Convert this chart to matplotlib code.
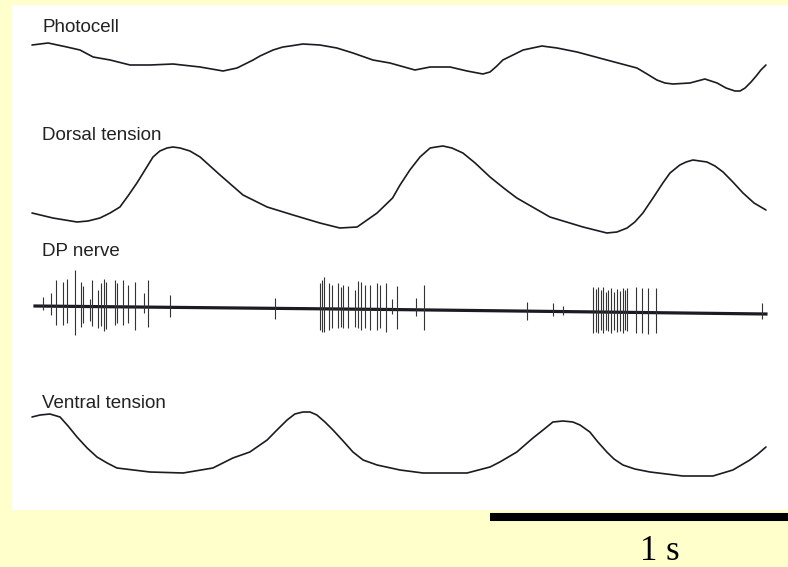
import matplotlib
matplotlib.use("Agg")
import matplotlib.pyplot as plt
import numpy as np

# time in seconds, levels in arbitrary recorder units (up = positive)
photo_t = [-0.01, 0.044, 0.107, 0.151, 0.195, 0.252, 0.319, 0.386, 0.463, 0.554, 0.631, 0.678,
           0.705, 0.732, 0.755, 0.799, 0.832, 0.856, 0.899, 0.956, 1.013, 1.067, 1.134, 1.191,
           1.275, 1.326, 1.393, 1.450, 1.503, 1.527, 1.550, 1.570, 1.604, 1.638, 1.701, 1.752,
           1.819, 1.919, 2.020, 2.054, 2.087, 2.114, 2.141, 2.198, 2.248, 2.289, 2.319, 2.349,
           2.366, 2.383, 2.403, 2.423, 2.436, 2.453]
photo_v = [55, 57, 53, 50, 43, 40, 35, 35, 36, 33, 29, 32,
           36, 40, 44, 50, 53, 54, 56, 55, 52, 47, 40, 37,
           30, 33, 33, 29, 26, 28, 34, 40, 45, 50, 54, 52,
           48, 40, 32, 26, 20, 17, 16, 17, 21, 17, 12, 9,
           9, 12, 18, 25, 30, 35]

dorsal_t = [-0.01, 0.060, 0.141, 0.178, 0.218, 0.252, 0.285, 0.312, 0.342, 0.369, 0.396, 0.419,
            0.443, 0.463, 0.487, 0.520, 0.554, 0.621, 0.698, 0.779, 0.866, 0.956, 1.023, 1.081,
            1.148, 1.200, 1.225, 1.258, 1.292, 1.326, 1.346, 1.369, 1.399, 1.436, 1.477, 1.527,
            1.577, 1.617, 1.728, 1.839, 1.919, 1.953, 1.987, 2.013, 2.040, 2.074, 2.107, 2.131,
            2.164, 2.185, 2.208, 2.255, 2.282, 2.309, 2.342, 2.376, 2.413, 2.453]
dorsal_v = [27, 22, 18, 19, 22, 27, 33, 44, 57, 70, 83, 89,
            92, 93, 92, 89, 83, 65, 45, 33, 25, 17, 12, 13,
            27, 42, 55, 70, 83, 92, 93, 94, 92, 87, 77, 63,
            51, 42, 23, 13, 7, 8, 12, 18, 27, 42, 57, 67,
            75, 78, 80, 78, 74, 68, 58, 47, 37, 30]

ventral_t = [-0.01, 0.017, 0.050, 0.084, 0.111, 0.141, 0.175, 0.208, 0.242, 0.275, 0.386, 0.497,
             0.597, 0.664, 0.721, 0.779, 0.812, 0.846, 0.872, 0.899, 0.923, 0.946, 0.973, 1.000,
             1.034, 1.067, 1.101, 1.148, 1.225, 1.302, 1.450, 1.527, 1.560, 1.617, 1.671, 1.705,
             1.738, 1.772, 1.805, 1.829, 1.862, 1.889, 1.919, 1.943, 1.973, 2.013, 2.064, 2.174,
             2.275, 2.342, 2.399, 2.426, 2.453]
ventral_v = [63, 65, 66, 63, 54, 43, 32, 23, 17, 12, 8, 7,
             12, 22, 28, 40, 50, 60, 66, 68, 68, 65, 58, 50,
             39, 28, 20, 15, 10, 7, 7, 13, 18, 28, 42, 50,
             58, 59, 58, 55, 48, 38, 28, 21, 15, 11, 8, 4,
             4, 10, 20, 26, 33]

# DP nerve: baseline drift and spikes (up / down excursions)
dp_base_t = [0.0, 1.191, 2.453]
dp_base_v = [0, -3.5, -8]
spike_t = [0.027, 0.054, 0.070, 0.094, 0.107, 0.134, 0.154, 0.161, 0.185, 0.191, 0.211, 0.221,
           0.232, 0.238, 0.268, 0.275, 0.295, 0.312, 0.336, 0.366, 0.379, 0.453, 0.805,
           0.956, 0.963, 0.970, 0.987, 0.997, 1.017, 1.027, 1.034, 1.050, 1.074, 1.084, 1.094,
           1.107, 1.124, 1.148, 1.158, 1.178, 1.198, 1.215, 1.279, 1.305,
           1.651, 1.738, 1.772,
           1.872, 1.883, 1.889, 1.899, 1.906, 1.916, 1.923, 1.933, 1.943, 1.953, 1.963, 1.973,
           1.980, 1.987, 2.017, 2.037, 2.057, 2.084, 2.440]
spike_up = [9, 13, 26, 24, 27, 36, 24, 20, 8, 27, 17, 24,
            28, 25, 27, 24, 27, 22, 25, 14, 27, 12, 10,
            26, 29, 32, 26, 24, 26, 22, 24, 23, 19, 28, 27,
            24, 24, 26, 24, 26, 11, 24, 12, 25,
            9, 8, 6,
            25, 23, 25, 22, 25, 20, 22, 24, 20, 23, 21, 24,
            22, 24, 25, 25, 25, 25, 11]
spike_down = [4, 9, 19, 19, 17, 29, 21, 17, 14, 19, 21, 19,
              24, 22, 18, 16, 18, 16, 23, 6, 20, 10, 11,
              21, 23, 23, 21, 19, 19, 18, 19, 19, 18, 19, 21,
              19, 21, 21, 19, 23, 4, 19, 6, 20,
              9, 5, 3,
              21, 20, 21, 18, 21, 18, 19, 21, 18, 20, 19, 21,
              18, 19, 21, 20, 21, 20, 5]

labels = ["Photocell", "Dorsal tension", "DP nerve", "Ventral tension"]

bg = "#FFFFCC"
ink = "#1c1a22"

fig = plt.figure(figsize=(7.88, 5.67), dpi=100, facecolor=bg)
ax = fig.add_axes([12 / 788, 57 / 567, 776 / 788, 505 / 567])
ax.set_facecolor("white")
ax.set_xlim(-0.0772, 2.527)
ax.set_ylim(0, 505)
for s in ax.spines.values():
    s.set_visible(False)
ax.set_xticks([])
ax.set_yticks([])

line_kw = dict(color=ink, lw=1.2, solid_joinstyle="round", solid_capstyle="round")
ax.plot(photo_t, np.array(photo_v) + 410, **line_kw)
ax.plot(dorsal_t, np.array(dorsal_v) + 270, **line_kw)
ax.plot(ventral_t, np.array(ventral_v) + 30, **line_kw)

# nerve recording
ax.plot(dp_base_t, np.array(dp_base_v) + 204, color=ink, lw=2.3)
base_at = np.interp(spike_t, dp_base_t, dp_base_v) + 204
ax.vlines(spike_t, base_at - np.array(spike_down), base_at + np.array(spike_up),
          color="#333333", lw=0.8)

label_y = [482, 375, 258, 107]
for lab, y in zip(labels, label_y):
    ax.text(0.0235, y, lab, fontsize=13.5, family="Liberation Sans",
            color="#222222", va="center", ha="left")

# 1 s scale bar
ax.plot([1.527, 2.527], [-7, -7], color="black", lw=5.8, solid_capstyle="butt", clip_on=False)
ax.text(2.097, -42, "1 s", fontsize=25, family="Liberation Serif", ha="center", va="center")

fig.savefig("out.png", dpi=100, facecolor=bg)
